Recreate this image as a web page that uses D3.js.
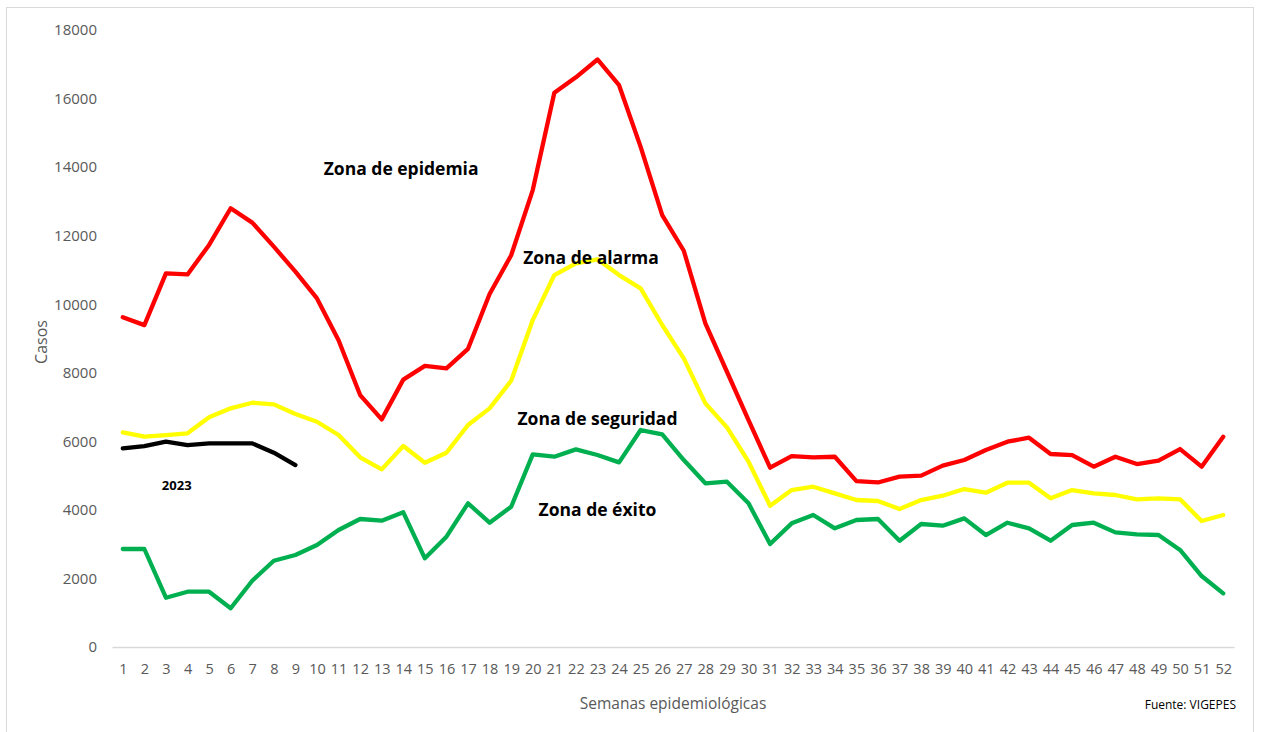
<!DOCTYPE html>
<html>
<head>
<meta charset="utf-8">
<script src="https://cdn.jsdelivr.net/npm/d3@7"></script>
<style>
  html, body { margin: 0; padding: 0; background: #fff; }
  svg { display: block; }
  .tick text { font-family: "Open Sans", "Noto Sans", sans-serif; fill: #595959; }
</style>
</head>
<body>
<svg id="chart" width="1261" height="732"></svg>
<script>
const weeks = d3.range(1, 53);
const yTicks = [0, 2000, 4000, 6000, 8000, 10000, 12000, 14000, 16000, 18000];

const epidemia = [9620, 9390, 10900, 10870, 11730, 12800, 12380, 11680, 10950, 10170,
  8950, 7350, 6640, 7800, 8200, 8130, 8700, 10300, 11430, 13330,
  16170, 16620, 17140, 16390, 14590, 12600, 11560, 9440, 8030, 6620,
  5230, 5570, 5530, 5550, 4840, 4800, 4970, 5000, 5290, 5455,
  5746, 5990, 6106, 5630, 5600, 5260, 5551, 5338, 5435, 5775, 5260, 6135];

const alarma = [6262, 6135, 6184, 6233, 6700, 6962, 7126, 7078, 6797, 6572,
  6184, 5533, 5183, 5863, 5377, 5668, 6476, 6962, 7768, 9538,
  10851, 11193, 11309, 10851, 10463, 9393, 8420, 7108, 6408, 5405,
  4122, 4580, 4676, 4483, 4288, 4259, 4026, 4288, 4414, 4609,
  4502, 4793, 4793, 4337, 4580, 4483, 4434, 4308, 4337, 4308, 3675, 3850];

const exito = [2859, 2859, 1438, 1613, 1613, 1129, 1934, 2517, 2684, 2975,
  3413, 3734, 3685, 3929, 2587, 3218, 4192, 3626, 4093, 5620,
  5551, 5766, 5600, 5387, 6330, 6204, 5455, 4775, 4822, 4192,
  3005, 3608, 3850, 3462, 3705, 3734, 3101, 3588, 3539, 3753,
  3267, 3626, 3462, 3101, 3559, 3626, 3345, 3286, 3267, 2830, 2071, 1566];

const y2023 = [5796, 5863, 5989, 5892, 5941, 5941, 5941, 5668, 5309];

const series = [
  { name: "Zona de epidemia", values: epidemia, color: "#FF0000" },
  { name: "Zona de alarma", values: alarma, color: "#FFFF00" },
  { name: "Zona de éxito", values: exito, color: "#00B050" },
  { name: "2023", values: y2023, color: "#000000" }
];

const labels = [
  { text: "Zona de epidemia", week: 13.9, value: 13900, size: 17.5 },
  { text: "Zona de alarma", week: 22.7, value: 11300, size: 17.5 },
  { text: "Zona de seguridad", week: 23, value: 6600, size: 17.5 },
  { text: "Zona de éxito", week: 23, value: 3950, size: 17.5 },
  { text: "2023", week: 3.5, value: 4680, size: 13 }
];

const svg = d3.select("#chart");

// outer frame
svg.append("rect").attr("x", 6.5).attr("y", 7.5).attr("width", 1247).attr("height", 740)
  .attr("fill", "none").attr("stroke", "#d9d9d9").attr("stroke-width", 1);

const x = d3.scalePoint().domain(weeks).range([112, 1234]).padding(0.5);
const y = d3.scaleLinear().domain([0, 18000]).range([647, 30]);

// y axis
const yAxis = svg.append("g").attr("transform", "translate(112,0)")
  .call(d3.axisLeft(y).tickValues(yTicks).tickSize(0).tickPadding(15).tickFormat(d3.format("d")));
yAxis.select(".domain").remove();
yAxis.selectAll("text").attr("font-size", 15);

// x axis
const xAxis = svg.append("g").attr("transform", "translate(0,647)")
  .call(d3.axisBottom(x).tickSize(0).tickPadding(17));
xAxis.select(".domain").attr("stroke", "#d9d9d9").attr("stroke-width", 1.5);
xAxis.selectAll("text").attr("font-size", 14.5);

// axis titles
svg.append("text").attr("transform", "translate(47,342) rotate(-90)")
  .attr("text-anchor", "middle").attr("font-family", "Open Sans, sans-serif")
  .attr("font-size", 16).attr("fill", "#595959").text("Casos");
svg.append("text").attr("x", 673).attr("y", 709)
  .attr("text-anchor", "middle").attr("font-family", "Open Sans, sans-serif")
  .attr("font-size", 15.5).attr("fill", "#595959").text("Semanas epidemiológicas");
svg.append("text").attr("x", 1236).attr("y", 709)
  .attr("text-anchor", "end").attr("font-family", "Open Sans, sans-serif")
  .attr("font-size", 12).attr("fill", "#000").text("Fuente: VIGEPES");

// lines
const line = d3.line().x((d, i) => x(weeks[i])).y(d => y(d));
svg.append("g").selectAll("path").data(series).join("path")
  .attr("d", d => line(d.values))
  .attr("fill", "none")
  .attr("stroke", d => d.color)
  .attr("stroke-width", 4.3)
  .attr("stroke-linejoin", "round")
  .attr("stroke-linecap", "round");

// zone labels
svg.append("g").selectAll("text").data(labels).join("text")
  .attr("x", d => x.step() * (d.week - 1) + x(1))
  .attr("y", d => y(d.value))
  .attr("text-anchor", "middle")
  .attr("dominant-baseline", "middle")
  .attr("font-family", "Open Sans, sans-serif")
  .attr("font-weight", "bold")
  .attr("font-size", d => d.size)
  .attr("fill", "#000")
  .text(d => d.text);
</script>
</body>
</html>
